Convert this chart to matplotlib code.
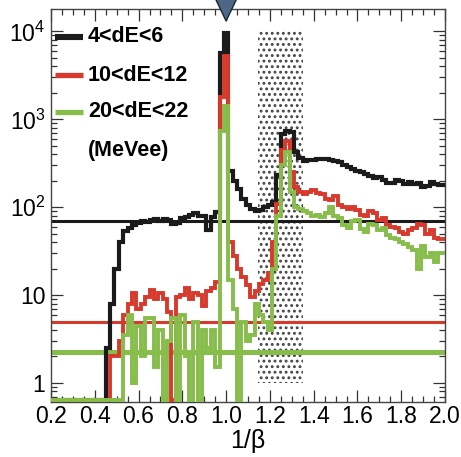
import numpy as np
import matplotlib
matplotlib.use('Agg')
import matplotlib.pyplot as plt
from matplotlib.patches import Rectangle, Polygon
import matplotlib.ticker as mticker
import matplotlib.transforms as mtrans

plt.rcParams['font.family'] = ['Liberation Sans', 'DejaVu Sans']
plt.rcParams['mathtext.fontset'] = 'custom'
plt.rcParams['mathtext.rm'] = 'Liberation Sans'
plt.rcParams['mathtext.it'] = 'Liberation Sans:italic'
plt.rcParams['mathtext.bf'] = 'Liberation Sans:bold'
plt.rcParams['mathtext.default'] = 'regular'
plt.rcParams['hatch.linewidth'] = 1.3

# ---------------- data ----------------
bin_start = 0.20          # first bin centre
bin_width = 0.02
n_bins = 91               # centres 0.20 ... 2.00

counts_4_6 = ([0] * 13 +
    [2.5, 8, 20, 40, 54, 58, 62, 66, 70, 68, 72, 74, 70, 74, 72, 64, 66, 75, 78, 82, 86, 80, 80, 55, 78, 88] +
    [5700, 9700] +
    [260, 200, 160, 125, 105, 95, 90, 92, 100, 105, 115, 230, 680, 730, 720, 420] +
    [360, 335, 340, 345, 350, 355, 350, 345, 335, 325, 300, 285, 270, 255, 250, 240, 225, 215, 218, 205,
     190, 188, 205, 200, 185, 195, 185, 190, 170, 175, 195, 185, 180, 180])

counts_10_12 = ([0] * 14 +
    [2, 2, 3, 6, 8, 10.5, 7, 8, 9.5, 11.5, 9, 10.5, 9, 6.5, 0, 9.5, 10, 12, 9, 10.5, 10, 7.5, 11, 12, 14] +
    [1800, 5200] +
    [40, 28, 20, 16, 13, 9.5, 11, 13.5, 15, 18, 40, 110, 450, 560, 250, 170] +
    [150, 140, 150, 155, 145, 140, 125, 120, 135, 105, 100, 95, 100, 92, 82, 80, 90, 85, 72, 75,
     62, 60, 58, 52, 50, 55, 58, 65, 62, 50, 55, 45, 44, 44])

counts_20_22 = ([0] * 17 +
    [3.5, 6, 1, 4.5, 2, 5.5, 5.5, 1.5, 4, 0, 3, 5.5, 0, 6, 2, 0, 5, 0, 4, 2.5, 4, 1.5] +
    [730, 1400] +
    [15, 7, 0, 5, 3, 3.5, 8, 6, 5, 4, 20, 80, 300, 420, 150, 100] +
    [95, 90, 85, 80, 82, 78, 85, 100, 80, 75, 62, 58, 70, 72, 56, 52, 65, 62, 55, 58,
     48, 45, 44, 40, 38, 35, 33, 20, 36, 27, 30, 24, 30, 30])

levels = [69, 4.9, 2.24]          # horizontal reference levels
labels = ['4<dE<6', '10<dE<12', '20<dE<22']
band = (1.145, 1.35, 1.0, 1.0e4)  # shaded 1/beta window
x_ticks = [0.2, 0.4, 0.6, 0.8, 1.0, 1.2, 1.4, 1.6, 1.8, 2.0]
y_ticks = [1, 10, 100, 1000, 10000]
y_ticklabels = ['1', '10', '$10^{2}$', '$10^{3}$', '$10^{4}$']

colors = ['#1b1b1b', '#d7392d', '#86bd4b']
lws = [3.0, 2.8, 2.8]
hlws = [2.2, 2.2, 3.6]

# ---------------- figure ----------------
fig = plt.figure(figsize=(4.61, 4.57), dpi=100)
ax = fig.add_axes([51 / 461, 1 - 402 / 457, 394 / 461, 393 / 457])
ax.set_yscale('log')
ax.set_xlim(0.2, 2.0)
ax.set_ylim(0.607, 1.8e4)

edges = bin_start - bin_width / 2 + bin_width * np.arange(n_bins + 1)
floor = 0.64

# shaded window
ax.add_patch(Rectangle((band[0], band[2]), band[1] - band[0], band[3] - band[2],
                       fill=False, hatch='...', edgecolor='#444444', lw=0, zorder=1))

for lev, c, lw in zip(levels, colors, hlws):
    ax.axhline(lev, color=c, lw=lw, zorder=2)

for vals, c, lw in zip([counts_4_6, counts_10_12, counts_20_22], colors, lws):
    v = np.array(vals, dtype=float)
    v = np.where(v <= 0, floor, v)
    ax.stairs(v, edges, baseline=None, color=c, lw=lw, zorder=3)

# ticks
ax.set_xticks(x_ticks)
ax.xaxis.set_major_formatter(mticker.FormatStrFormatter('%.1f'))
ax.xaxis.set_minor_locator(mticker.MultipleLocator(0.05))
ax.set_yticks(y_ticks)
ax.set_yticklabels(y_ticklabels)
ax.yaxis.set_minor_locator(mticker.LogLocator(base=10, subs=np.arange(2, 10)))
ax.yaxis.set_minor_formatter(mticker.NullFormatter())
ax.tick_params(which='both', direction='in', top=True, right=True, color='#333333', width=0.9)
ax.tick_params(which='major', length=8.5)
ax.tick_params(which='minor', length=4.5)
ax.tick_params(axis='x', which='major', labelsize=16.5, pad=2)
ax.tick_params(axis='y', which='major', labelsize=16.5, pad=4)
for s in ax.spines.values():
    s.set_color('#444444')
    s.set_linewidth(1.0)

ax.set_xlabel('1/β', fontsize=18, labelpad=1)

# legend (manual)
ys = [0.929, 0.832, 0.738]
for yy, c, lab in zip(ys, colors, labels):
    ax.plot([0.010, 0.081], [yy, yy], transform=ax.transAxes, color=c,
            lw=4.4 if c == colors[0] else 3.8, solid_capstyle='butt', clip_on=False, zorder=5)
    ax.text(0.094, yy, lab, transform=ax.transAxes, fontsize=15.5, fontweight='bold',
            va='center', ha='left', zorder=5)
ax.text(0.094, 0.641, '(MeVee)', transform=ax.transAxes, fontsize=15.5, fontweight='bold',
        va='center', ha='left', zorder=5)

# marker triangle at 1/beta = 1
trans = mtrans.blended_transform_factory(ax.transData, ax.transAxes)
tri = Polygon([[1.0 - 0.052, 1.03], [1.0 + 0.052, 1.03], [1.0, 0.9695]], closed=True,
              transform=trans, clip_on=False, facecolor='#4e6784', edgecolor='#1c2533',
              lw=1.0, zorder=6)
ax.add_patch(tri)

fig.savefig('out.png', dpi=100)
